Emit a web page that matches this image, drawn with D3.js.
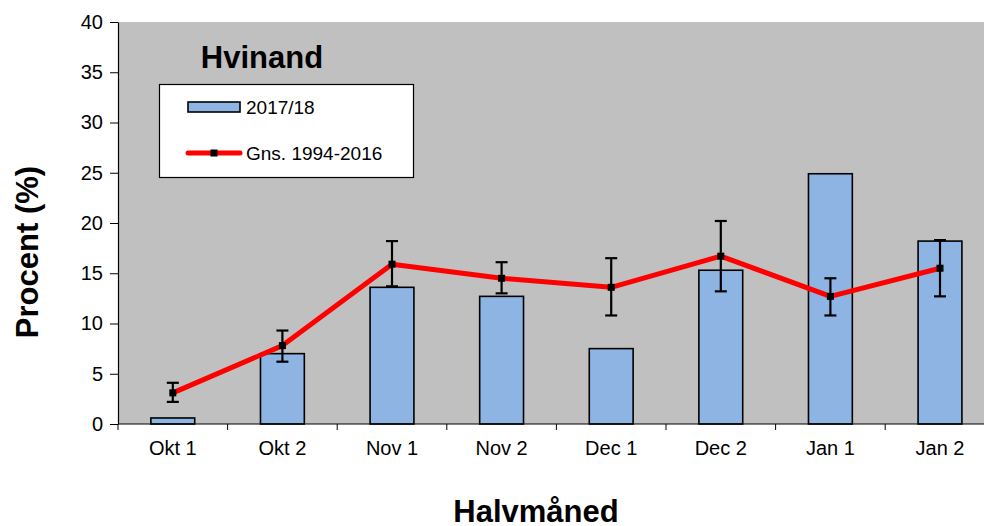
<!DOCTYPE html>
<meta charset="utf-8" />
<style>
  body { margin: 0; background: #fff; }
  text { font-family: "Liberation Sans", Arial, sans-serif; }
</style>
<body>
  <div id="chart"></div>
  <script src="https://d3js.org/d3.v7.min.js"></script>
  <script>
    // data
    var categories = ["Okt 1", "Okt 2", "Nov 1", "Nov 2", "Dec 1", "Dec 2", "Jan 1", "Jan 2"];
    var season = [0.6, 7.0, 13.6, 12.7, 7.5, 15.3, 24.9, 18.2];
    var average = [3.1, 7.8, 15.9, 14.5, 13.6, 16.7, 12.7, 15.5];
    var errHigh = [4.1, 9.3, 18.2, 16.1, 16.5, 20.2, 14.5, 18.3];
    var errLow = [2.2, 6.2, 13.7, 13.0, 10.8, 13.2, 10.8, 12.7];
    var yTicks = [0, 5, 10, 15, 20, 25, 30, 35, 40];

    var W = 984, H = 526;
    var plotLeft = 118, plotTop = 22, plotBottom = 424, plotRight = 118 + 8 * 109.6;

    var svg = d3.select("#chart").append("svg")
      .attr("width", W)
      .attr("height", H);

    var x = d3.scaleBand().domain(categories).range([plotLeft, plotRight]).padding(0);
    var y = d3.scaleLinear().domain([0, 40]).range([plotBottom, plotTop]);

    // plot background
    svg.append("rect")
      .attr("x", plotLeft).attr("y", plotTop)
      .attr("width", plotRight - plotLeft).attr("height", plotBottom - plotTop)
      .attr("fill", "#c0c0c0");

    // bars
    var bw = x.bandwidth() * 0.4;
    svg.selectAll(".bar")
      .data(season)
      .enter().append("rect")
      .attr("class", "bar")
      .attr("x", function(d, i) { return x(categories[i]) + x.bandwidth() / 2 - bw / 2; })
      .attr("y", function(d) { return y(d); })
      .attr("width", bw)
      .attr("height", function(d) { return y(0) - y(d); })
      .attr("fill", "#8eb4e3")
      .attr("stroke", "#000")
      .attr("stroke-width", 1.6);

    var cx = function(i) { return x(categories[i]) + x.bandwidth() / 2; };

    // average line
    svg.append("path")
      .datum(average)
      .attr("fill", "none")
      .attr("stroke", "#ff0000")
      .attr("stroke-width", 5)
      .attr("stroke-linejoin", "round")
      .attr("d", d3.line()
        .x(function(d, i) { return cx(i); })
        .y(function(d) { return y(d); }));

    // error bars
    var eb = svg.append("g").attr("stroke", "#000").attr("stroke-width", 2.2);
    average.forEach(function(d, i) {
      eb.append("line")
        .attr("x1", cx(i)).attr("x2", cx(i))
        .attr("y1", y(errLow[i])).attr("y2", y(errHigh[i]));
      [errLow[i], errHigh[i]].forEach(function(v) {
        eb.append("line")
          .attr("x1", cx(i) - 6).attr("x2", cx(i) + 6)
          .attr("y1", y(v)).attr("y2", y(v));
      });
    });

    // markers
    svg.selectAll(".mark")
      .data(average)
      .enter().append("rect")
      .attr("class", "mark")
      .attr("x", function(d, i) { return cx(i) - 3.5; })
      .attr("y", function(d) { return y(d) - 3.5; })
      .attr("width", 7).attr("height", 7)
      .attr("fill", "#000");

    // y axis
    var yAxis = svg.append("g")
      .attr("transform", "translate(" + plotLeft + ",0)")
      .call(d3.axisLeft(y).tickValues(yTicks).tickSize(8).tickSizeOuter(0).tickPadding(7));
    yAxis.select(".domain").attr("stroke", "#000").attr("stroke-width", 1.2);
    yAxis.selectAll("text").style("font-size", "20px").attr("fill", "#000");

    // x axis (ticks between categories)
    var xAxis = svg.append("g")
      .attr("transform", "translate(0," + plotBottom + ")");
    xAxis.append("line")
      .attr("x1", plotLeft).attr("x2", plotRight)
      .attr("stroke", "#000").attr("stroke-width", 1.2);
    xAxis.selectAll(".xt")
      .data(categories)
      .enter().append("line")
      .attr("x1", function(d) { return x(d); })
      .attr("x2", function(d) { return x(d); })
      .attr("y1", 0).attr("y2", 6)
      .attr("stroke", "#000");
    xAxis.selectAll(".xl")
      .data(categories)
      .enter().append("text")
      .attr("x", function(d) { return x(d) + x.bandwidth() / 2; })
      .attr("y", 31)
      .attr("text-anchor", "middle")
      .style("font-size", "20px")
      .text(function(d) { return d; });

    // titles
    svg.append("text")
      .attr("x", 262).attr("y", 68)
      .attr("text-anchor", "middle")
      .style("font-size", "31px").style("font-weight", "bold")
      .text("Hvinand");

    svg.append("text")
      .attr("x", 536).attr("y", 522)
      .attr("text-anchor", "middle")
      .style("font-size", "31px").style("font-weight", "bold")
      .text("Halvmåned");

    svg.append("text")
      .attr("transform", "translate(38,252) rotate(-90)")
      .attr("text-anchor", "middle")
      .style("font-size", "31px").style("font-weight", "bold")
      .text("Procent (%)");

    // legend
    var lg = svg.append("g");
    lg.append("rect")
      .attr("x", 159.5).attr("y", 84.5)
      .attr("width", 254).attr("height", 93)
      .attr("fill", "#fff").attr("stroke", "#000").attr("stroke-width", 1.2);
    lg.append("rect")
      .attr("x", 188).attr("y", 102)
      .attr("width", 52).attr("height", 10)
      .attr("fill", "#8eb4e3").attr("stroke", "#000").attr("stroke-width", 1.6);
    lg.append("text")
      .attr("x", 246).attr("y", 113.5)
      .style("font-size", "19px")
      .text("2017/18");
    lg.append("line")
      .attr("x1", 188).attr("x2", 240)
      .attr("y1", 153).attr("y2", 153)
      .attr("stroke", "#ff0000").attr("stroke-width", 5).attr("stroke-linecap", "round");
    lg.append("rect")
      .attr("x", 210.5).attr("y", 149.5)
      .attr("width", 7).attr("height", 7)
      .attr("fill", "#000");
    lg.append("text")
      .attr("x", 246).attr("y", 160)
      .style("font-size", "19px")
      .text("Gns. 1994-2016");
  </script>
</body>
